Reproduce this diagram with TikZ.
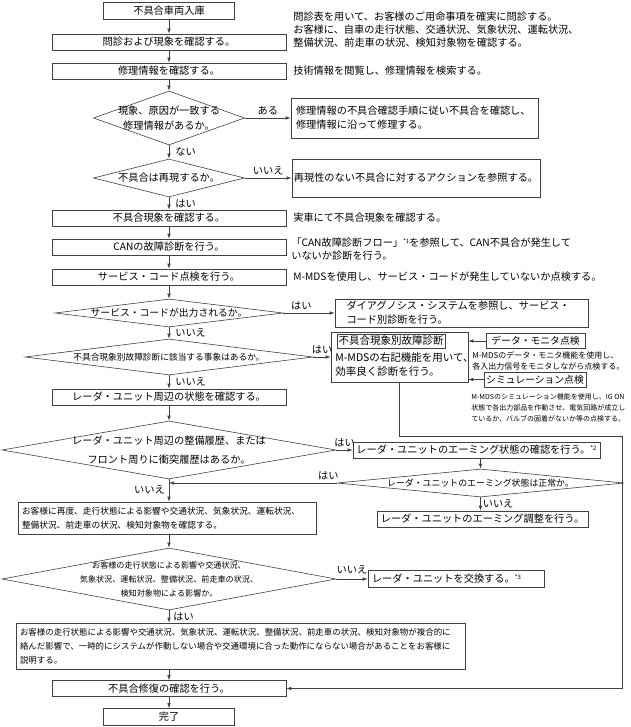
\documentclass[tikz,border=0pt]{standalone}
\usepackage{fontspec}
\setmainfont{Noto Sans CJK JP}
\usepackage{tikz}
\usetikzlibrary{shapes.geometric, arrows.meta}
\newcommand{\astmark}[1]{\raisebox{3pt}{\fontsize{6}{6}\selectfont *#1}}

\begin{document}
\begin{tikzpicture}[x=1pt, y=-1pt, line width=0.6pt,
		every node/.style={font=\fontsize{10.2}{13}\selectfont},
		proc/.style={rectangle, draw=black!75, inner sep=2pt, minimum height=16pt},
		ask/.style={diamond, draw=black!75, inner sep=0pt},
		note/.style={anchor=west, align=left, inner sep=0pt},
		lbl/.style={inner sep=1pt},
		flow/.style={draw=black!75, ->},
		>={Latex[length=5pt, width=3.5pt]}]
			\useasboundingbox (0,0) rectangle (630,727);
			\node[proc, minimum width=131pt, minimum height=17pt] at (169,10.5) (p0){不具合車両入庫};
			\node[proc, minimum width=234pt] at (169,42) (p1){問診および現象を確認する。};
			\node[proc, minimum width=234pt] at (169,71) (p2){修理情報を確認する。};
			\node[ask, minimum width=151pt, minimum height=54pt, label={[align=center, font=\fontsize{10.2}{15}\selectfont]center:現象、原因が一致する\\修理情報があるか。}] at (169,118) (d1){};
			\node[ask, minimum width=151pt, minimum height=38pt, label=center:不具合は再現するか。] at (169,178) (d2){};
			\node[proc, minimum width=234pt] at (169,218) (p3){不具合現象を確認する。};
			\node[proc, minimum width=234pt] at (169,247) (p4){CANの故障診断を行う。};
			\node[proc, minimum width=234pt] at (169,277) (p5){サービス・コード点検を行う。};
			\node[ask, minimum width=228pt, minimum height=28pt, label={[font=\fontsize{9.8}{12}\selectfont]center:サービス・コードが出力されるか。}] at (169,313) (d3){};
			\node[ask, minimum width=288pt, minimum height=36pt, label={[font=\fontsize{8.7}{11}\selectfont]center:不具合現象別故障診断に該当する事象はあるか。}] at (169,357) (d4){};
			\node[proc, minimum width=234pt] at (169,397) (p6){レーダ・ユニット周辺の状態を確認する。};
			\node[ask, minimum width=334pt, minimum height=58pt, label={[align=center, font=\fontsize{10.2}{19}\selectfont]center:レーダ・ユニット周辺の整備履歴、または\\フロント周りに衝突履歴はあるか。}] at (169,450) (d5){};
			\node[proc, minimum width=298pt, minimum height=32pt, align=left, text width=290pt, font=\fontsize{8.7}{14}\selectfont] at (167,518) (p7){お客様に再度、走行状態による影響や交通状況、気象状況、運転状況、\\整備状況、前走車の状況、検知対象物を確認する。};
			\node[ask, minimum width=334pt, minimum height=62pt, label={[align=center, font=\fontsize{8.1}{14}\selectfont]center:お客様の走行状態による影響や交通状況、\\気象状況、運転状況、整備状況、前走車の状況、\\検知対象物による影響か。}] at (169,579) (d7){};
			\node[proc, minimum width=449pt, minimum height=46pt, align=left, text width=441pt, font=\fontsize{8.45}{14}\selectfont] at (240.5,646) (p8){お客様の走行状態による影響や交通状況、気象状況、運転状況、整備状況、前走車の状況、検知対象物が複合的に\\絡んだ影響で、一時的にシステムが作動しない場合や交通環境に合った動作にならない場合があることをお客様に\\説明する。};
			\node[proc, minimum width=234pt] at (169,688.5) (p9){不具合修復の確認を行う。};
			\node[proc, minimum width=131pt, minimum height=17pt] at (169,717) (p10){完了};
			\node[note] at (293,30) (t1){問診表を用いて、お客様のご用命事項を確実に問診する。\\お客様に、自車の走行状態、交通状況、気象状況、運転状況、\\整備状況、前走車の状況、検知対象物を確認する。};
			\node[note] at (293,71) (t2){技術情報を閲覧し、修理情報を検索する。};
			\node[proc, minimum width=247pt, minimum height=40pt, align=left, text width=237pt, font=\fontsize{10.2}{14}\selectfont] at (414.5,118) (r1){修理情報の不具合確認手順に従い不具合を確認し、\\修理情報に沿って修理する。};
			\node[proc, minimum width=248pt, minimum height=38pt] at (416,178) (r2){再現性のない不具合に対するアクションを参照する。};
			\node[note] at (293,218) (t3){実車にて不具合現象を確認する。};
			\node[note] at (291,249.5) (t4){「CAN故障診断フロー」\astmark{1}を参照して、CAN不具合が発生して\\いないか診断を行う。};
			\node[note] at (293,277) (t5){M-MDSを使用し、サービス・コードが発生していないか点検する。};
			\node[proc, minimum width=253pt, minimum height=28pt, align=left, text width=230pt, font=\fontsize{10.2}{14}\selectfont] at (461.5,313) (r3){ダイアグノシス・システムを参照し、サービス・\\コード別診断を行う。};
			\node[proc, minimum width=137pt, minimum height=50pt] at (399.5,357) (r4){};
			\node[proc, minimum height=14pt, inner sep=1.5pt, font=\fontsize{10.5}{13}\selectfont] at (391,341) (r4h){不具合現象別故障診断};
			\node[note, font=\fontsize{10.5}{14}\selectfont] at (335,364.5) (r4t){M-MDSの右記機能を用いて、\\効率良く診断を行う。};
			\node[proc, minimum width=99pt, minimum height=15pt, font=\fontsize{9.8}{12}\selectfont] at (535.5,341) (r4a){データ・モニタ点検};
			\node[note, font=\fontsize{8}{11}\selectfont] at (472,360.5) (t6){M-MDSのデータ・モニタ機能を使用し、\\各入出力信号をモニタしながら点検する。};
			\node[proc, minimum width=100pt, minimum height=15pt, font=\fontsize{9.8}{12}\selectfont] at (535,379.5) (r4b){シミュレーション点検};
			\node[note, font=\fontsize{7}{11}\selectfont] at (471,408) (t7){M-MDSのシミュレーション機能を使用し、IG ON\\状態で各出力部品を作動させ、電気回路が成立し\\ているか、バルブの固着がないか等の点検する。};
			\node[proc, minimum width=247pt] at (476.5,450) (r5){レーダ・ユニットのエーミング状態の確認を行う。\astmark{2}};
			\node[ask, minimum width=287pt, minimum height=28pt, label={[font=\fontsize{8.9}{11}\selectfont]center:レーダ・ユニットのエーミング状態は正常か。}] at (480.5,483) (d6){};
			\node[proc, minimum width=211pt] at (482.5,519) (r6){レーダ・ユニットのエーミング調整を行う。};
			\node[proc, minimum width=176pt, minimum height=17pt, align=left, text width=168pt] at (456,579) (r7){レーダ・ユニットを交換する。\astmark{3}};
			\coordinate (c1) at (622,436);
			\draw[flow] (p0) -- (p1);
			\draw[flow] (p1) -- (p2);
			\draw[flow] (p2) -- (d1);
			\draw[flow] (d1.east) -- node[lbl, above=2pt] (a1){ある} (r1.west);
			\draw[flow] (d1) -- node[lbl, right=5pt] (a2){ない} (d2);
			\draw[flow] (d2.east) -- node[lbl, above=2pt] (a3){いいえ} (r2.west);
			\draw[flow] (d2) -- node[lbl, right=5pt] (a4){はい} (p3);
			\draw[flow] (p3) -- (p4);
			\draw[flow] (p4) -- (p5);
			\draw[flow] (p5) -- (d3);
			\draw[flow] (d3.east) -- node[lbl, above=2pt, pos=0.35] (a5){はい} (r3.west);
			\draw[flow] (d3) -- node[lbl, right=5pt] (a6){いいえ} (d4);
			\draw[flow] (d4.east) -- node[lbl, above=2pt] (a7){はい} (r4.west);
			\draw[flow] (r4a) -- (r4a -| r4.east);
			\draw[flow] (r4b) -- (r4b -| r4.east);
			\draw[flow] (d4) -- node[lbl, right=5pt] (a8){いいえ} (p6);
			\draw[flow] (p6) -- (d5);
			\draw[flow] (d5.east) -- node[lbl, above=2pt] (a9){はい} (r5.west);
			\draw[flow] (r5.south -| d6.north) -- (d6.north);
			\draw[flow] (d6.west) -- node[lbl, above=2pt, pos=0.05] (a10){はい} (d6.west -| d5.south);
			\draw[flow] (d5) -- node[lbl, left=3pt, pos=0.45] (a11){いいえ} (d5.south |- p7.north);
			\draw[flow] (d6) -- node[lbl, right=1pt] (a12){いいえ} (d6.south |- r6.north);
			\draw[flow] (p7.south -| d7.north) -- (d7);
			\draw[flow] (d7.east) -- node[lbl, above=4pt] (a13){いいえ} (r7.west);
			\draw[flow] (d7) -- node[lbl, right=3pt] (a14){はい} (d7.south |- p8.north);
			\draw[flow] (p8.south -| p9.north) -- (p9);
			\draw[flow] (p9) -- (p10);
			\draw[flow] (r4) |- (c1) |- (p9.east);
		\end{tikzpicture}
\end{document}
